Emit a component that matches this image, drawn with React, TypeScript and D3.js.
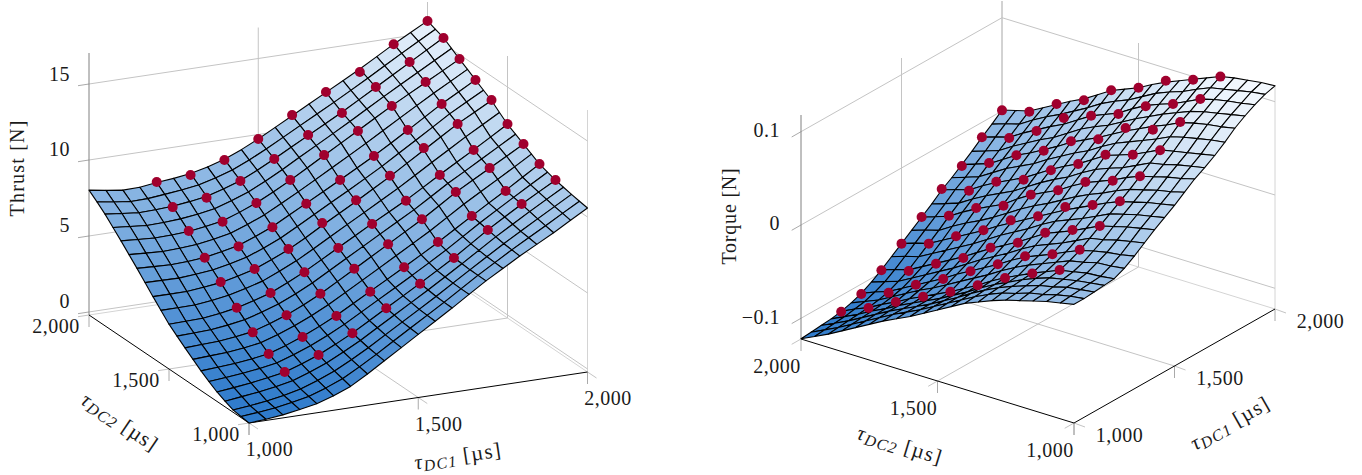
import React, { useEffect, useRef } from "react";
import * as d3 from "d3";

// grid of the fitted surface, in microseconds
const surfaceTaus = [1000, 1050, 1100, 1150, 1200, 1250, 1300, 1350, 1400, 1450, 1500, 1550, 1600, 1650, 1700, 1750, 1800, 1850, 1900, 1950, 2000];
// grid of the measured points
const pointTaus = [1200, 1300, 1400, 1500, 1600, 1700, 1800, 1900, 2000];
const tauTicks = [1000, 1500, 2000];
const thrustTicks = [0, 5, 10, 15];
const torqueTicks = [-0.1, 0, 0.1];

// rows go with tauDC2 from 1000 to 2000, columns with tauDC1 from 1000 to 2000
const thrustSurface = [
  [-0.2, -0.12, 0, 0.18, 0.4, 0.75, 1.2, 1.85, 2.55, 3.25, 3.95, 4.65, 5.35, 6.08, 6.8, 7.45, 8.1, 8.7, 9.3, 9.95, 10.59],
  [-0.13, -0.03, 0.1, 0.29, 0.52, 0.9, 1.35, 1.96, 2.62, 3.31, 4.0, 4.68, 5.37, 6.09, 6.81, 7.48, 8.15, 8.78, 9.4, 10.05, 10.68],
  [-0.05, 0.06, 0.2, 0.4, 0.65, 1.05, 1.5, 2.08, 2.7, 3.38, 4.05, 4.72, 5.4, 6.11, 6.82, 7.51, 8.2, 8.85, 9.5, 10.14, 10.78],
  [0.17, 0.3, 0.44, 0.62, 0.85, 1.23, 1.67, 2.23, 2.82, 3.49, 4.15, 4.81, 5.47, 6.16, 6.86, 7.58, 8.3, 8.96, 9.62, 10.26, 10.89],
  [0.42, 0.54, 0.68, 0.85, 1.05, 1.42, 1.85, 2.38, 2.95, 3.6, 4.25, 4.9, 5.55, 6.22, 6.9, 7.65, 8.4, 9.08, 9.75, 10.38, 11.0],
  [0.75, 0.85, 0.96, 1.11, 1.3, 1.67, 2.1, 2.61, 3.17, 3.81, 4.45, 5.08, 5.72, 6.38, 7.05, 7.77, 8.5, 9.18, 9.85, 10.51, 11.17],
  [1.1, 1.17, 1.25, 1.38, 1.55, 1.92, 2.35, 2.85, 3.4, 4.02, 4.65, 5.27, 5.9, 6.55, 7.2, 7.9, 8.6, 9.28, 9.95, 10.65, 11.35],
  [1.5, 1.56, 1.62, 1.75, 1.92, 2.28, 2.7, 3.2, 3.75, 4.38, 5.02, 5.66, 6.3, 6.95, 7.6, 8.31, 9.02, 9.68, 10.32, 10.98, 11.65],
  [1.9, 1.95, 2.0, 2.13, 2.3, 2.65, 3.05, 3.55, 4.1, 4.75, 5.4, 6.05, 6.7, 7.35, 8.0, 8.72, 9.45, 10.08, 10.7, 11.32, 11.95],
  [2.32, 2.36, 2.4, 2.54, 2.72, 3.05, 3.42, 3.92, 4.47, 5.11, 5.75, 6.38, 7.02, 7.65, 8.28, 8.97, 9.68, 10.31, 10.95, 11.6, 12.25],
  [2.75, 2.77, 2.8, 2.95, 3.15, 3.45, 3.8, 4.3, 4.85, 5.47, 6.1, 6.72, 7.35, 7.95, 8.55, 9.22, 9.9, 10.55, 11.2, 11.87, 12.55],
  [3.3, 3.31, 3.32, 3.45, 3.62, 3.9, 4.22, 4.7, 5.22, 5.83, 6.47, 7.1, 7.72, 8.35, 8.98, 9.66, 10.35, 11.02, 11.7, 12.33, 12.97],
  [3.85, 3.85, 3.85, 3.96, 4.1, 4.35, 4.65, 5.1, 5.6, 6.2, 6.85, 7.48, 8.1, 8.75, 9.4, 10.1, 10.8, 11.5, 12.2, 12.8, 13.4],
  [4.42, 4.4, 4.38, 4.46, 4.58, 4.8, 5.08, 5.51, 6.0, 6.6, 7.22, 7.84, 8.45, 9.08, 9.72, 10.41, 11.1, 11.8, 12.5, 13.11, 13.72],
  [5.0, 4.95, 4.9, 4.95, 5.05, 5.25, 5.5, 5.92, 6.4, 7.0, 7.6, 8.2, 8.8, 9.42, 10.05, 10.72, 11.4, 12.1, 12.8, 13.42, 14.05],
  [5.55, 5.48, 5.42, 5.46, 5.55, 5.72, 5.95, 6.36, 6.82, 7.4, 8.0, 8.62, 9.25, 9.88, 10.52, 11.18, 11.85, 12.5, 13.15, 13.76, 14.38],
  [6.1, 6.02, 5.95, 5.98, 6.05, 6.2, 6.4, 6.8, 7.25, 7.8, 8.4, 9.05, 9.7, 10.35, 11.0, 11.65, 12.3, 12.9, 13.5, 14.1, 14.7],
  [6.62, 6.52, 6.42, 6.45, 6.52, 6.66, 6.85, 7.21, 7.62, 8.16, 8.75, 9.38, 10.0, 10.62, 11.25, 11.9, 12.55, 13.18, 13.8, 14.42, 15.05],
  [7.15, 7.02, 6.9, 6.93, 7.0, 7.13, 7.3, 7.62, 8.0, 8.52, 9.1, 9.7, 10.3, 10.9, 11.5, 12.15, 12.8, 13.45, 14.1, 14.75, 15.4],
  [7.6, 7.42, 7.29, 7.31, 7.42, 7.54, 7.7, 8.0, 8.35, 8.84, 9.4, 10.0, 10.6, 11.2, 11.8, 12.42, 13.05, 13.7, 14.35, 14.98, 15.6],
  [8.02, 7.83, 7.68, 7.7, 7.85, 7.95, 8.1, 8.37, 8.7, 9.17, 9.7, 10.3, 10.9, 11.5, 12.1, 12.7, 13.3, 13.95, 14.6, 15.2, 15.8],
];

// rows go with tauDC2 from 1200 to 2000, columns with tauDC1 from 1200 to 2000
const thrustPoints = [
  [1.06, 1.85, 2.94, 4.25, 5.53, 6.89, 8.39, 9.77, 11.01],
  [1.54, 2.32, 3.37, 4.63, 5.9, 7.23, 8.6, 9.91, 11.35],
  [2.25, 3.04, 4.12, 5.43, 6.7, 8.01, 9.47, 10.71, 11.96],
  [3.16, 3.79, 4.82, 6.08, 7.33, 8.52, 9.88, 11.19, 12.56],
  [4.14, 4.66, 5.64, 7.02, 8.18, 9.46, 10.94, 12.19, 13.43],
  [5.03, 5.44, 6.36, 7.58, 8.8, 10.04, 11.42, 12.79, 14.04],
  [6.08, 6.35, 7.25, 8.43, 9.73, 10.98, 12.29, 13.53, 14.71],
  [6.94, 7.22, 7.98, 9.1, 10.34, 11.45, 12.83, 14.14, 15.38],
  [7.88, 8.0, 8.66, 9.7, 10.94, 12.12, 13.1, 14.6, 15.79],
];

const torqueSurface = [
  [0.005, 0.005, 0.006, 0.007, 0.008, 0.013, 0.02, 0.028, 0.036, 0.043, 0.05, 0.058, 0.066, 0.072, 0.079, 0.087, 0.096, 0.103, 0.109, 0.114, 0.117],
  [0.002, 0.003, 0.004, 0.005, 0.006, 0.011, 0.017, 0.025, 0.033, 0.04, 0.047, 0.054, 0.062, 0.069, 0.076, 0.085, 0.093, 0.1, 0.106, 0.112, 0.116],
  [-0.001, 0.0, 0.002, 0.003, 0.005, 0.01, 0.015, 0.022, 0.03, 0.037, 0.044, 0.051, 0.059, 0.066, 0.073, 0.082, 0.091, 0.097, 0.104, 0.109, 0.114],
  [-0.005, -0.004, -0.002, 0.0, 0.002, 0.006, 0.012, 0.018, 0.026, 0.033, 0.04, 0.047, 0.055, 0.062, 0.07, 0.079, 0.088, 0.094, 0.101, 0.106, 0.112],
  [-0.009, -0.007, -0.005, -0.003, -0.001, 0.003, 0.008, 0.015, 0.022, 0.029, 0.036, 0.043, 0.051, 0.059, 0.067, 0.075, 0.084, 0.09, 0.097, 0.103, 0.109],
  [-0.013, -0.012, -0.01, -0.008, -0.007, -0.003, 0.002, 0.008, 0.015, 0.022, 0.03, 0.037, 0.045, 0.052, 0.06, 0.068, 0.077, 0.084, 0.09, 0.097, 0.103],
  [-0.018, -0.016, -0.015, -0.014, -0.013, -0.009, -0.005, 0.001, 0.008, 0.015, 0.023, 0.03, 0.038, 0.045, 0.053, 0.062, 0.071, 0.078, 0.083, 0.09, 0.097],
  [-0.024, -0.022, -0.021, -0.021, -0.02, -0.015, -0.011, -0.005, 0.002, 0.009, 0.016, 0.024, 0.032, 0.04, 0.048, 0.056, 0.064, 0.071, 0.078, 0.085, 0.091],
  [-0.03, -0.029, -0.028, -0.028, -0.027, -0.022, -0.017, -0.011, -0.004, 0.003, 0.009, 0.017, 0.026, 0.034, 0.043, 0.05, 0.057, 0.064, 0.072, 0.079, 0.085],
  [-0.038, -0.037, -0.036, -0.036, -0.035, -0.03, -0.025, -0.019, -0.013, -0.005, 0.001, 0.009, 0.018, 0.026, 0.034, 0.042, 0.049, 0.056, 0.064, 0.071, 0.078],
  [-0.046, -0.045, -0.045, -0.045, -0.044, -0.039, -0.034, -0.028, -0.022, -0.014, -0.007, 0.001, 0.009, 0.017, 0.025, 0.033, 0.041, 0.048, 0.055, 0.063, 0.07],
  [-0.054, -0.053, -0.053, -0.053, -0.052, -0.047, -0.042, -0.036, -0.03, -0.022, -0.015, -0.006, 0.002, 0.01, 0.018, 0.026, 0.034, 0.042, 0.049, 0.057, 0.064],
  [-0.062, -0.061, -0.061, -0.061, -0.06, -0.055, -0.05, -0.044, -0.038, -0.03, -0.023, -0.014, -0.005, 0.002, 0.01, 0.018, 0.027, 0.035, 0.043, 0.05, 0.058],
  [-0.069, -0.068, -0.068, -0.068, -0.067, -0.063, -0.058, -0.053, -0.047, -0.039, -0.031, -0.023, -0.014, -0.007, 0.001, 0.01, 0.018, 0.026, 0.034, 0.041, 0.049],
  [-0.076, -0.075, -0.075, -0.075, -0.074, -0.071, -0.067, -0.062, -0.056, -0.048, -0.04, -0.032, -0.024, -0.016, -0.008, 0.001, 0.01, 0.017, 0.025, 0.033, 0.04],
  [-0.084, -0.083, -0.082, -0.082, -0.081, -0.078, -0.075, -0.07, -0.064, -0.056, -0.048, -0.04, -0.031, -0.023, -0.015, -0.006, 0.002, 0.01, 0.018, 0.025, 0.033],
  [-0.092, -0.091, -0.09, -0.09, -0.089, -0.086, -0.083, -0.078, -0.072, -0.064, -0.056, -0.047, -0.038, -0.03, -0.022, -0.013, -0.005, 0.002, 0.01, 0.018, 0.025],
  [-0.1, -0.099, -0.098, -0.097, -0.096, -0.094, -0.091, -0.086, -0.08, -0.072, -0.064, -0.055, -0.046, -0.038, -0.03, -0.022, -0.014, -0.006, 0.002, 0.01, 0.017],
  [-0.108, -0.107, -0.106, -0.105, -0.104, -0.102, -0.099, -0.094, -0.088, -0.08, -0.072, -0.064, -0.055, -0.047, -0.039, -0.031, -0.023, -0.015, -0.007, 0.001, 0.009],
  [-0.115, -0.114, -0.113, -0.112, -0.11, -0.108, -0.104, -0.099, -0.092, -0.084, -0.076, -0.068, -0.06, -0.052, -0.043, -0.036, -0.028, -0.02, -0.011, -0.003, 0.005],
  [-0.122, -0.121, -0.12, -0.119, -0.117, -0.114, -0.11, -0.104, -0.097, -0.089, -0.081, -0.073, -0.065, -0.057, -0.048, -0.041, -0.033, -0.025, -0.016, -0.008, 0.001],
];

const torquePoints = [
  [-0.0007, 0.0089, 0.0221, 0.0363, 0.0509, 0.0666, 0.0847, 0.0972, 0.1089],
  [-0.0134, -0.005, 0.0088, 0.0234, 0.0372, 0.0528, 0.0674, 0.0827, 0.0966],
  [-0.0272, -0.0162, -0.0031, 0.0122, 0.0268, 0.0438, 0.0602, 0.0713, 0.0865],
  [-0.0441, -0.0338, -0.0228, -0.0068, 0.0089, 0.0249, 0.0391, 0.054, 0.07],
  [-0.0599, -0.0503, -0.0372, -0.0201, -0.0048, 0.0091, 0.028, 0.0432, 0.0582],
  [-0.0743, -0.0675, -0.0572, -0.0398, -0.0256, -0.01, 0.0089, 0.0317, 0.0385],
  [-0.089, -0.0827, -0.0724, -0.0552, -0.0371, -0.0211, -0.005, 0.0088, 0.0255],
  [-0.1044, -0.1002, -0.0892, -0.0721, -0.0544, -0.0398, -0.0223, -0.0077, 0.0082],
  [-0.1174, -0.1106, -0.0974, -0.0811, -0.0647, -0.047, -0.0345, -0.016, 0.0007],
];

const FONT = "'Liberation Serif', serif";

function Surface3D({ cfg }) {
  const ref = useRef();

  useEffect(() => {
    const g = d3.select(ref.current);
    g.selectAll("*").remove();

    const tau = d3.scaleLinear().domain([1000, 2000]).range([0, 1]);
    const zPos = d3.scaleLinear().domain(cfg.zDomain).range([0, cfg.zHeight]);
    const color = d3
      .scaleLinear()
      .domain(cfg.zDomain)
      .range(["#2d7acb", "#f7fbff"])
      .interpolate(d3.interpolateRgb);

    // oblique projection, same as what the axis box in the picture does
    const project = (x, y, z) => [
      cfg.origin[0] + tau(x) * cfg.xVec[0] + tau(y) * cfg.yVec[0],
      cfg.origin[1] + tau(x) * cfg.xVec[1] + tau(y) * cfg.yVec[1] - zPos(z),
    ];
    const line = d3.line();
    const zLow = cfg.zDomain[0];
    const zTop = cfg.zDomain[1];

    const seg = (a, b, stroke, width = 1) =>
      g
        .append("path")
        .attr("d", line([a, b]))
        .attr("fill", "none")
        .attr("stroke", stroke)
        .attr("stroke-width", width);

    // floor edges
    seg(project(1000, 2000, zLow), project(2000, 2000, zLow), "#d4d4d4");
    seg(project(2000, 2000, zLow), project(2000, 1000, zLow), "#d4d4d4");

    // floor and wall grid
    cfg.gridTaus.forEach((t) => {
      seg(project(t, 1000, zLow), project(t, 2000, zLow), "#c4c4c4");
      seg(project(1000, t, zLow), project(2000, t, zLow), "#c4c4c4");
    });
    [1500, 2000].forEach((t) => {
      seg(project(t, 2000, zLow), project(t, 2000, zTop), "#c4c4c4");
      seg(project(2000, t, zLow), project(2000, t, zTop), "#c4c4c4");
    });
    seg(project(2000, 1000, zLow), project(2000, 1000, zTop), "#d4d4d4");
    cfg.zTicks.forEach((z) => {
      seg(project(1000, 2000, z), project(2000, 2000, z), "#c4c4c4");
      seg(project(2000, 2000, z), project(2000, 1000, z), "#c4c4c4");
    });

    // tick marks
    tauTicks.forEach((t) => {
      const px = project(t, 1000, zLow);
      seg(px, [px[0], px[1] + cfg.tickDown], "#aaaaaa");
      seg(px, [px[0] + cfg.xTickOut[0], px[1] + cfg.xTickOut[1]], "#c4c4c4");
      const py = project(1000, t, zLow);
      seg(py, [py[0], py[1] + cfg.tickDown], "#aaaaaa");
      seg(py, [py[0] + cfg.zTickOut[0], py[1] + cfg.zTickOut[1]], "#c4c4c4");
    });
    cfg.zTicks.forEach((z) => {
      const p = project(1000, 2000, z);
      seg(p, [p[0] + cfg.zTickOut[0], p[1] + cfg.zTickOut[1]], "#aaaaaa");
    });

    // axis lines
    seg(project(1000, 2000, zLow), project(1000, 2000, zTop), "#808080");
    seg(project(1000, 1000, zLow), project(2000, 1000, zLow), "#000");
    seg(project(1000, 1000, zLow), project(1000, 2000, zLow), "#000");

    // mesh, far corner first
    const mesh = g.append("g");
    for (let v = surfaceTaus.length - 2; v >= 0; v--) {
      for (let u = surfaceTaus.length - 2; u >= 0; u--) {
        const zs = [
          cfg.surface[v][u],
          cfg.surface[v][u + 1],
          cfg.surface[v + 1][u + 1],
          cfg.surface[v + 1][u],
        ];
        const corners = [
          project(surfaceTaus[u], surfaceTaus[v], zs[0]),
          project(surfaceTaus[u + 1], surfaceTaus[v], zs[1]),
          project(surfaceTaus[u + 1], surfaceTaus[v + 1], zs[2]),
          project(surfaceTaus[u], surfaceTaus[v + 1], zs[3]),
        ];
        mesh
          .append("path")
          .attr("d", line(corners) + "Z")
          .attr("fill", color(d3.mean(zs)))
          .attr("stroke", "#000")
          .attr("stroke-width", 1.1)
          .attr("stroke-linejoin", "round");
      }
    }

    // measured points
    pointTaus.forEach((y, r) => {
      pointTaus.forEach((x, c) => {
        const [cx, cy] = project(x, y, cfg.points[r][c]);
        g.append("circle")
          .attr("cx", cx)
          .attr("cy", cy)
          .attr("r", 5)
          .attr("fill", "#a0002e");
      });
    });

    // text
    const label = (x, y, text, anchor = "middle") =>
      g
        .append("text")
        .attr("x", x)
        .attr("y", y)
        .attr("text-anchor", anchor)
        .attr("dominant-baseline", "central")
        .attr("font-family", FONT)
        .attr("font-size", 20)
        .attr("letter-spacing", 0.5)
        .attr("fill", "#1a1a1a")
        .text(text);

    const fmt = d3.format(",");
    tauTicks.forEach((t) => {
      const px = project(t, 1000, zLow);
      label(px[0] + cfg.xLabelOff[0], px[1] + cfg.xLabelOff[1], fmt(t));
      const py = project(1000, t, zLow);
      label(py[0] + cfg.yLabelOff[0], py[1] + cfg.yLabelOff[1], fmt(t));
    });
    cfg.zTicks.forEach((z, i) => {
      const p = project(1000, 2000, z);
      label(cfg.zLabelX, p[1] + cfg.zLabelDy, cfg.zTickText[i], "end");
    });

    label(0, 0, cfg.zTitle)
      .attr("letter-spacing", cfg.zTitleSpacing)
      .attr("transform", `translate(${cfg.zTitlePos}) rotate(-90)`);

    const tauLabel = (pos, angle, sub) => {
      const t = g
        .append("text")
        .attr("text-anchor", "middle")
        .attr("dominant-baseline", "central")
        .attr("font-family", FONT)
        .attr("font-size", 21)
        .attr("letter-spacing", 1.2)
        .attr("fill", "#1a1a1a")
        .attr("transform", `translate(${pos}) rotate(${angle})`);
      t.append("tspan").attr("font-style", "italic").text("τ");
      t.append("tspan")
        .attr("font-style", "italic")
        .attr("font-size", 16)
        .attr("dy", 4)
        .text(sub);
      t.append("tspan").attr("dy", -4).text(" [µs]");
    };
    tauLabel(cfg.xTitlePos, cfg.xTitleAngle, "DC1");
    tauLabel(cfg.yTitlePos, cfg.yTitleAngle, "DC2");
  }, [cfg]);

  return <g ref={ref} />;
}

const thrustCfg = {
  surface: thrustSurface,
  points: thrustPoints,
  origin: [249, 423],
  xVec: [338.5, -51],
  yVec: [-160, -108],
  zDomain: [-0.2, 17.04],
  zHeight: 262,
  zTicks: thrustTicks,
  zTickText: ["0", "5", "10", "15"],
  gridTaus: [1500],
  tickDown: 12,
  xTickOut: [9, 6],
  zTickOut: [-11, 1.7],
  xLabelOff: [20.5, 26],
  yLabelOff: [-33, 11],
  zLabelX: 70,
  zLabelDy: -10.5,
  zTitle: "Thrust [N]",
  zTitleSpacing: 1.2,
  zTitlePos: [17, 168],
  xTitlePos: [458, 456],
  xTitleAngle: -8.6,
  yTitlePos: [120, 422],
  yTitleAngle: 34,
};

const torqueCfg = {
  surface: torqueSurface,
  points: torquePoints,
  origin: [1074, 423],
  xVec: [201, -114],
  yVec: [-273, -84],
  zDomain: [-0.1222, 0.1179],
  zHeight: 224,
  zTicks: torqueTicks,
  zTickText: ["\u22120.1", "0", "0.1"],
  gridTaus: [1500],
  tickDown: 12,
  xTickOut: [11, 4],
  zTickOut: [-9.3, 5.3],
  xLabelOff: [45.5, 12],
  yLabelOff: [-24, 27],
  zLabelX: 780,
  zLabelDy: -1.5,
  zTitle: "Torque [N]",
  zTitleSpacing: 0.8,
  zTitlePos: [729, 216],
  xTitlePos: [1230, 423],
  xTitleAngle: -29.6,
  yTitlePos: [900, 445],
  yTitleAngle: 17,
};

export default function App() {
  return (
    <svg
      width={1362}
      height={475}
      style={{ position: "absolute", left: 0, top: 0, display: "block" }}
    >
      <Surface3D cfg={thrustCfg} />
      <Surface3D cfg={torqueCfg} />
    </svg>
  );
}
